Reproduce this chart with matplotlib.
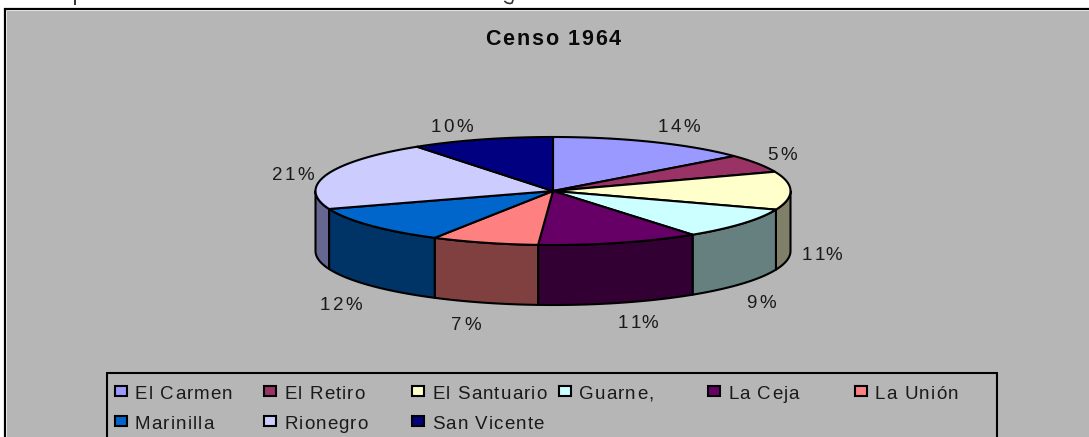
import numpy as np
import matplotlib
matplotlib.use("Agg")
import matplotlib.pyplot as plt
from matplotlib.patches import Rectangle
from matplotlib.text import Text

title = "Censo 1964"
categories = ["El Carmen", "El Retiro", "El Santuario", "Guarne,", "La Ceja",
              "La Unión", "Marinilla", "Rionegro", "San Vicente"]
shares = [13.8, 5.4, 11.4, 9.4, 11.0, 7.3, 11.3, 20.7, 9.7]
percent_labels = ["14%", "5%", "11%", "9%", "11%", "7%", "12%", "21%", "10%"]
top_colors = ["#9999FF", "#993366", "#FFFFCC", "#CCFFFF", "#660066",
              "#FF8080", "#0066CC", "#CCCCFF", "#000080"]
side_colors = ["#4D4D80", "#4D1A33", "#80806A", "#668080", "#330033",
               "#804040", "#003366", "#666690", "#000040"]
label_xy = [(679, 126), (782, 154), (822, 254), (761, 301), (638, 322),
            (466, 323), (341, 303), (293, 173), (452, 125)]

BG = "#B6B6B6"
plt.rcParams["font.family"] = ["Liberation Sans", "DejaVu Sans"]
fig = plt.figure(figsize=(10.89, 4.37), dpi=100, facecolor="white")
ax = fig.add_axes([0, 0, 1, 1])
ax.set_xlim(0, 1089)
ax.set_ylim(437, 0)
ax.axis("off")


class SpacedText(Text):
    """One text artist drawn with extra letter spacing (in pixels)."""

    def __init__(self, x, y, s, spacing=0.0, **kw):
        self.spacing = spacing
        self._center = kw.pop("center", False)
        super().__init__(x, y, s, va="baseline", ha="left", **kw)

    def _advances(self, renderer):
        s = self.get_text()
        fp = self.get_fontproperties()
        return [renderer.get_text_width_height_descent(s[:i], fp, False)[0] + i * self.spacing
                for i in range(len(s) + 1)]

    def draw(self, renderer):
        adv = self._advances(renderer)
        x0, y0 = self.get_transform().transform(self.get_position())
        total = adv[-1] - self.spacing
        if self._center:
            x0 -= total / 2
        inv = self.get_transform().inverted()
        for i, ch in enumerate(self.get_text()):
            if ch == " ":
                continue
            xd, yd = inv.transform((x0 + adv[i], y0))
            t = Text(xd, yd, ch, va="baseline", ha="left",
                     fontproperties=self.get_fontproperties(), color=self.get_color())
            t.set_transform(self.get_transform())
            t.set_figure(self.get_figure())
            t.draw(renderer)

    def get_window_extent(self, renderer=None, dpi=None):
        renderer = renderer or self.get_figure().canvas.get_renderer()
        bb = super().get_window_extent(renderer, dpi)
        adv = self._advances(renderer)
        total = adv[-1] - self.spacing
        x0, y0 = self.get_transform().transform(self.get_position())
        if self._center:
            x0 -= total / 2
        return matplotlib.transforms.Bbox.from_extents(x0, bb.y0, x0 + total, bb.y1)


def stext(x, y, s, **kw):
    t = SpacedText(x, y, s, **kw)
    ax.add_artist(t)
    return t


# chart area: top and left frame with a thin white inner line
ax.add_patch(Rectangle((0, 0), 1089, 437, fc="white", ec="none", zorder=0))
ax.add_patch(Rectangle((7, 11), 1082, 426, fc=BG, ec="none", zorder=1))
ax.plot([5, 5, 1089], [437, 9, 9], color="black", lw=1.6, solid_joinstyle="miter", zorder=1)

# illegible remains of the cut-off line of text above the frame
ax.plot([75, 75], [0, 3.5], color="#333333", lw=1.4, zorder=1)
ax.plot([505, 507, 510, 512, 513], [1.5, 3, 3.5, 3, 0], color="#333333", lw=1.2, zorder=1)

stext(553, 45, title, spacing=1.8, center=True, fontsize=15.5, fontweight="bold",
      color="#0a0a0a", zorder=5)

cx, cy, rx, ry, depth = 553, 191, 237.5, 54, 60
lw = 1.5


def pt(a):
    a = np.asarray(a)
    return cx + rx * np.sin(a), cy - ry * np.cos(a)


edges = np.cumsum([0] + shares) / np.sum(shares) * 2 * np.pi

for i in range(len(shares)):
    a0 = max(edges[i], np.pi / 2)
    a1 = min(edges[i + 1], 3 * np.pi / 2)
    if a1 <= a0:
        continue
    t = np.linspace(a0, a1, 60)
    x, y = pt(t)
    ax.fill(np.r_[x, x[::-1]], np.r_[y, y[::-1] + depth], fc=side_colors[i],
            ec="black", lw=lw, joinstyle="round", zorder=2)

for i in range(len(shares)):
    t = np.linspace(edges[i], edges[i + 1], 80)
    x, y = pt(t)
    ax.fill(np.r_[cx, x], np.r_[cy, y], fc=top_colors[i], ec="black", lw=lw,
            joinstyle="round", zorder=3)

for s, (lx, ly) in zip(percent_labels, label_xy):
    stext(lx, ly + 6.5, s, spacing=2.2, center=True, fontsize=13.5, color="#1a1a1a", zorder=5)

# legend
ax.add_patch(Rectangle((107, 373), 890, 70, fc=BG, ec="black", lw=1.5, zorder=4))
col_x = [114, 263, 411, 558, 707, 854]
row_y = [392, 422]
for i, name in enumerate(categories):
    sx = col_x[i % 6]
    sy = row_y[i // 6]
    ax.add_patch(Rectangle((sx + 0.7, sy - 6.5), 12, 10.5, fc=top_colors[i], ec="black",
                           lw=1.5, zorder=5))
    stext(sx + 21, sy + 7, name, spacing=1.1, fontsize=13.5, color="#1a1a1a", zorder=5)

fig.savefig("out.png", dpi=100, facecolor="white")
